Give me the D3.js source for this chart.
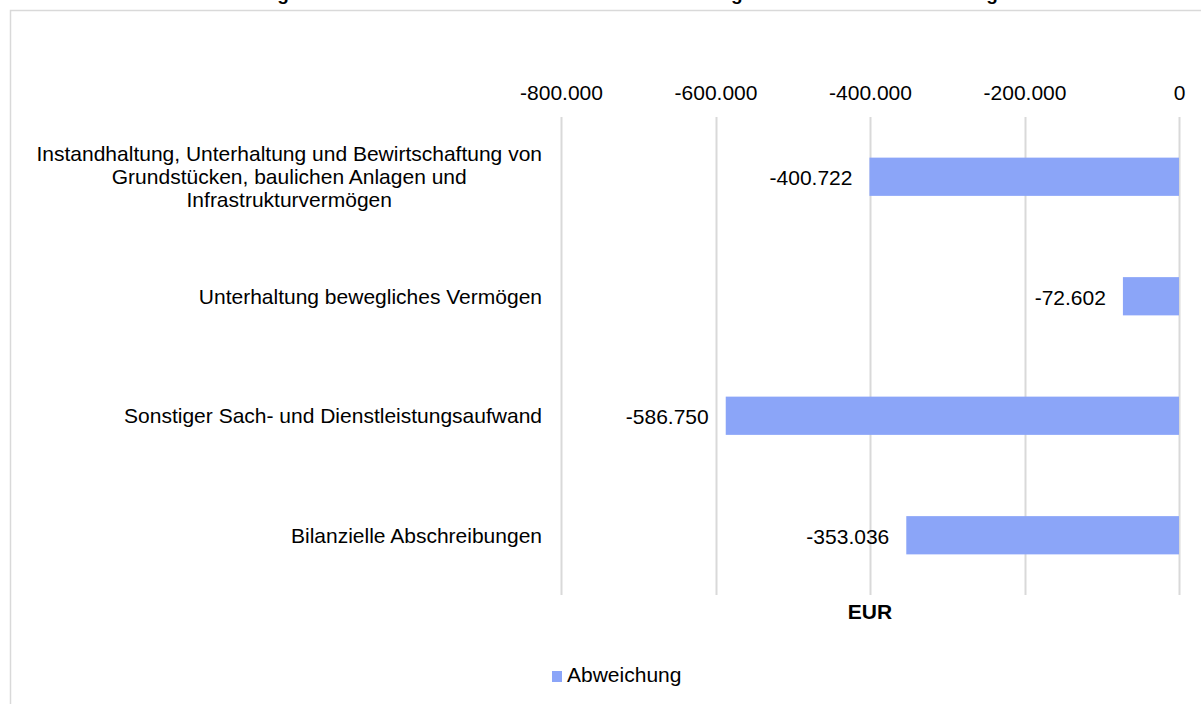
<!DOCTYPE html>
<html>
<head>
<meta charset="utf-8">
<script src="https://cdn.jsdelivr.net/npm/d3@7"></script>
<style>
  body { margin: 0; background: #fff; }
  svg { display: block; font-family: "Liberation Sans", Arial, sans-serif; }
</style>
</head>
<body>
<script>
// data
const categories = [
    "Instandhaltung, Unterhaltung und Bewirtschaftung von\nGrundstücken, baulichen Anlagen und\nInfrastrukturvermögen",
    "Unterhaltung bewegliches Vermögen",
    "Sonstiger Sach- und Dienstleistungsaufwand",
    "Bilanzielle Abschreibungen"
];
const values = [-400722, -72602, -586750, -353036];
const tickValues = [-800000, -600000, -400000, -200000, 0];
const seriesName = "Abweichung";
const axisTitle = "EUR";
const chartTitle = "Abweichungen Ist zu Ansatz bei den ordentlichen Aufwendungen Sach- und Dienstleistungen";

const W = 1201, H = 704;
const barColor = "#8ba5f8";
const gridColor = "#d9d9d9";

// German number format: 1.234.567, plain hyphen as minus
const de = d3.formatLocale({ decimal: ",", thousands: ".", grouping: [3], currency: ["", " €"], minus: "-" });
const fmt = de.format(",d");

const svg = d3.select("body").append("svg")
    .attr("width", W)
    .attr("height", H);

// chart frame (runs off the right and bottom edge)
svg.append("rect")
    .attr("x", 10.5).attr("y", 10.5)
    .attr("width", W + 20).attr("height", H + 20)
    .attr("fill", "none")
    .attr("stroke", gridColor)
    .attr("stroke-width", 1.5);

// title, cut off above the picture (only descenders show)
svg.append("text")
    .attr("x", 176)
    .attr("y", 0)
    .attr("font-size", 19)
    .attr("font-weight", "bold")
    .text(chartTitle);

// scales
const x = d3.scaleLinear()
    .domain([-800000, 0])
    .range([561, 1179]);

const y = d3.scaleBand()
    .domain(categories)
    .range([117, 595])
    .paddingInner(0.68)
    .paddingOuter(0.34);

// gridlines
svg.append("g")
    .selectAll("line")
    .data(tickValues)
    .join("line")
    .attr("x1", d => Math.round(x(d)) + 0.5)
    .attr("x2", d => Math.round(x(d)) + 0.5)
    .attr("y1", 117)
    .attr("y2", 595)
    .attr("stroke", gridColor)
    .attr("stroke-width", 2);

// top axis labels
const axisTop = d3.axisTop(x).tickValues(tickValues).tickFormat(fmt).tickSize(0).tickPadding(0);
const gAxis = svg.append("g")
    .attr("transform", "translate(0,100)")
    .call(axisTop);
gAxis.select(".domain").remove();
gAxis.selectAll("text")
    .attr("font-family", "Liberation Sans, Arial, sans-serif")
    .attr("font-size", 21)
    .attr("fill", "#000")
    .attr("dy", 0);

// bars
svg.append("g")
    .selectAll("rect")
    .data(values)
    .join("rect")
    .attr("x", d => x(d))
    .attr("y", (d, i) => y(categories[i]))
    .attr("width", d => x(0) - x(d))
    .attr("height", y.bandwidth())
    .attr("fill", barColor);

// value labels
svg.append("g")
    .selectAll("text")
    .data(values)
    .join("text")
    .attr("x", d => x(d) - 17)
    .attr("y", (d, i) => y(categories[i]) + y.bandwidth() / 2)
    .attr("dy", "0.4em")
    .attr("text-anchor", "end")
    .attr("font-size", 21)
    .text(d => fmt(d));

// category labels (multi-line ones centred on their widest line, block right-aligned)
const labelRight = 542;
const lineH = 23;
categories.forEach(function (c) {
    const lines = c.split("\n");
    const cy = y(c) + y.bandwidth() / 2;
    const t = svg.append("text")
        .attr("font-size", 21)
        .attr("text-anchor", "middle");
    const spans = lines.map((l, i) => t.append("tspan")
        .attr("y", cy + (i - (lines.length - 1) / 2) * lineH)
        .attr("dy", "0.36em")
        .text(l));
    const maxW = d3.max(spans, s => s.node().getComputedTextLength());
    spans.forEach(s => s.attr("x", labelRight - maxW / 2));
});

// axis title
svg.append("text")
    .attr("x", 870)
    .attr("y", 619)
    .attr("text-anchor", "middle")
    .attr("font-size", 21)
    .attr("font-weight", "bold")
    .text(axisTitle);

// legend
const legend = svg.append("g").attr("transform", "translate(552,671)");
legend.append("rect")
    .attr("width", 10)
    .attr("height", 11)
    .attr("fill", barColor);
legend.append("text")
    .attr("x", 15)
    .attr("y", 11)
    .attr("font-size", 21)
    .text(seriesName);
</script>
</body>
</html>
